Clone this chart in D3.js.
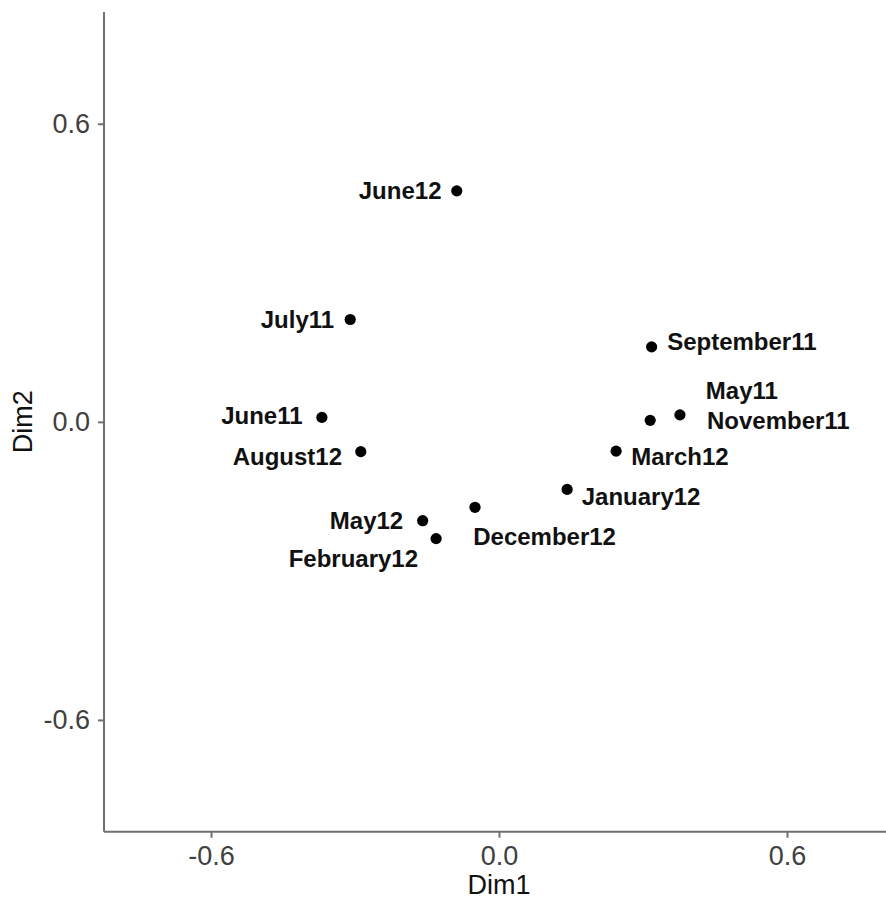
<!DOCTYPE html>
<html>
<head>
<meta charset="utf-8">
<script src="https://cdn.jsdelivr.net/npm/d3@7"></script>
<style>
  body { margin: 0; background: #fff; }
  svg { display: block; font-family: "Liberation Sans", Arial, sans-serif; }
  .axis path, .axis line { stroke: #707070; stroke-width: 2; }
  .axis text { fill: #404040; font-size: 27px; }
  .label { font-size: 24px; font-weight: bold; fill: #111; }
  .title { font-size: 27px; fill: #111; }
</style>
</head>
<body>
<svg width="886" height="899"></svg>
<script>
// months in the MDS map
var months = ['June12', 'July11', 'June11', 'August12', 'May12', 'February12',
              'December12', 'January12', 'March12', 'May11', 'November11', 'September11'];
var dim1 = [-0.088, -0.310, -0.369, -0.288, -0.159, -0.131,
            -0.050, 0.142, 0.244, 0.377, 0.315, 0.318];
var dim2 = [0.465, 0.206, 0.009, -0.060, -0.199, -0.235,
            -0.172, -0.136, -0.059, 0.014, 0.003, 0.151];
// repelled label centres (data units)
var labelX = [-0.206, -0.420, -0.494, -0.441, -0.276, -0.3035,
              0.095, 0.296, 0.377, 0.506, 0.582, 0.506];
var labelY = [0.465, 0.206, 0.0135, -0.070, -0.199, -0.275,
              -0.230, -0.151, -0.070, 0.062, 0.003, 0.161];
var ticks = [-0.6, 0.0, 0.6];

var svg = d3.select('svg');

var x = d3.scaleLinear().domain([-0.823, 0.823]).range([104, 894]);
var y = d3.scaleLinear().domain([-0.825, 0.825]).range([831.7, 12]);

var points = months.map(function(m, i) {
    return {name: m, x: dim1[i], y: dim2[i], lx: labelX[i], ly: labelY[i]};
});

// axes - plain hyphen for negatives like R does
var fmt = function(d) { return d.toFixed(1); };
var xAxis = d3.axisBottom(x).tickValues(ticks).tickFormat(fmt).tickSize(6).tickPadding(8);
var yAxis = d3.axisLeft(y).tickValues(ticks).tickFormat(fmt).tickSize(6).tickPadding(8);

svg.append('g')
    .attr('class', 'axis')
    .attr('transform', 'translate(0,831.7)')
    .call(xAxis)
    .call(function(g) { g.select('.domain').attr('d', 'M104,0H894'); });

svg.append('g')
    .attr('class', 'axis')
    .attr('transform', 'translate(104,0)')
    .call(yAxis)
    .call(function(g) { g.select('.domain').attr('d', 'M0,12V831.7'); });

svg.selectAll('.axis text').attr('font-family', null).attr('font-size', null);

// axis titles
svg.append('text')
    .attr('class', 'title')
    .attr('x', x(0))
    .attr('y', 894)
    .attr('text-anchor', 'middle')
    .text('Dim1');

svg.append('text')
    .attr('class', 'title')
    .attr('transform', 'translate(32,' + y(0) + ') rotate(-90)')
    .attr('text-anchor', 'middle')
    .text('Dim2');

// points and labels
svg.selectAll('.pt')
    .data(points)
    .enter()
    .append('circle')
    .attr('class', 'pt')
    .attr('cx', function(d) { return x(d.x); })
    .attr('cy', function(d) { return y(d.y); })
    .attr('r', 5.6)
    .attr('fill', '#000');

svg.selectAll('.label')
    .data(points)
    .enter()
    .append('text')
    .attr('class', 'label')
    .attr('x', function(d) { return x(d.lx); })
    .attr('y', function(d) { return y(d.ly); })
    .attr('dy', '0.35em')
    .attr('text-anchor', 'middle')
    .text(function(d) { return d.name; });
</script>
</body>
</html>
